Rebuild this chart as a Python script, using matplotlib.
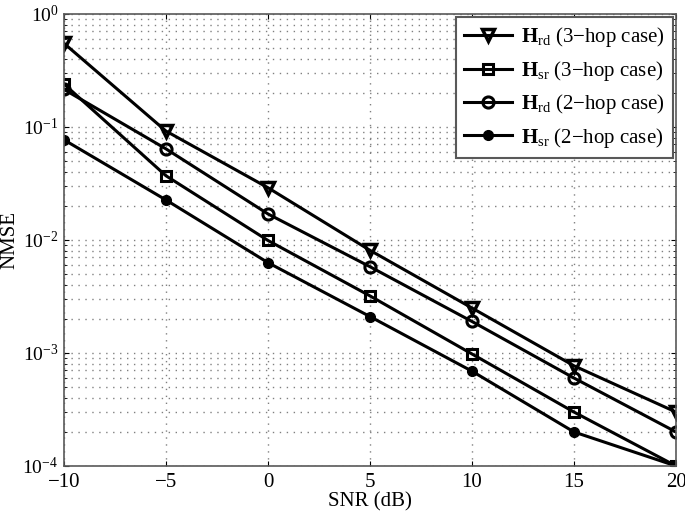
import numpy as np
import matplotlib.pyplot as plt

# ------------------ DATA ------------------
snr = [-10, -5, 0, 5, 10, 15, 20]
hrd_3hop = [0.55, 0.092, 0.029, 0.0081, 0.0025, 7.7e-4, 3.0e-4]
hsr_3hop = [0.24, 0.037, 0.0099, 0.0032, 0.00098, 3.0e-4, 1.0e-4]
hrd_2hop = [0.215, 0.064, 0.017, 0.0058, 0.0019, 6.0e-4, 2.0e-4]
hsr_2hop = [0.077, 0.0226, 0.0063, 0.0021, 0.00069, 2.0e-4, 1.0e-4]

labels = [r"$\mathbf{H}_{\mathrm{rd}}$ (3$-$hop case)",
          r"$\mathbf{H}_{\mathrm{sr}}$ (3$-$hop case)",
          r"$\mathbf{H}_{\mathrm{rd}}$ (2$-$hop case)",
          r"$\mathbf{H}_{\mathrm{sr}}$ (2$-$hop case)"]

# ------------------ STYLE ------------------
plt.rcParams["font.family"] = "Liberation Serif"
plt.rcParams["mathtext.fontset"] = "custom"
plt.rcParams["mathtext.rm"] = "Liberation Serif"
plt.rcParams["mathtext.bf"] = "Liberation Serif:bold"
plt.rcParams["mathtext.it"] = "Liberation Serif:italic"

fig = plt.figure(figsize=(6.85, 5.14), dpi=100)
ax = fig.add_axes([0.0934, 0.0934, 0.8935, 0.8794])

lw = 2.2
ax.semilogy(snr, hrd_3hop, "k-v", lw=lw, ms=9, mfc="none", mew=2.5, label=labels[0])
ax.semilogy(snr, hsr_3hop, "k-s", lw=lw, ms=7, mfc="none", mew=2.2, label=labels[1])
ax.semilogy(snr, hrd_2hop, "k-o", lw=lw, ms=8, mfc="none", mew=2.2, label=labels[2])
ax.semilogy(snr, hsr_2hop, "k-o", lw=lw, ms=7, mfc="k", label=labels[3])

ax.set_xlim(-10, 20)
ax.set_ylim(1e-4, 1)
ax.set_xticks([-10, -5, 0, 5, 10, 15, 20])
ax.set_xticklabels(["\u221210", "\u22125", "0", "5", "10", "15", "20"])
dots = (0, (1, 4))
ax.grid(True, which="major", ls=dots, color="0.5", lw=1.0)
ax.grid(True, which="minor", axis="y", ls=dots, color="0.5", lw=1.0)
ax.tick_params(which="both", direction="in", labelsize=15, top=True, right=True)
ax.tick_params(axis="y", labelsize=14, pad=4)
ax.tick_params(axis="x", pad=5)
for s in ax.spines.values():
    s.set_color("0.35")
    s.set_linewidth(1.2)

ax.set_xlabel("SNR (dB)", fontsize=15, labelpad=0)
ax.set_ylabel("NMSE", fontsize=15, labelpad=2)

leg = ax.legend(loc="upper right", fontsize=15, fancybox=False, framealpha=1,
                edgecolor="0.35", handlelength=2.3, labelspacing=0.45,
                borderaxespad=0.15, handletextpad=0.4)
leg.get_frame().set_linewidth(1.5)

plt.savefig("out.png", dpi=100)
